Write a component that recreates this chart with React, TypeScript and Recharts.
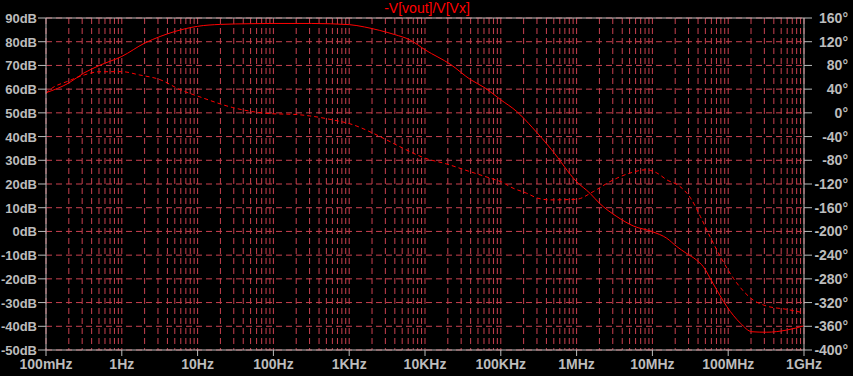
import React from "react";
import { LineChart, Line, XAxis, YAxis, CartesianGrid, ReferenceLine } from "recharts";

// Magnitude (dB) vs frequency (Hz)
const magFreq = [0.1, 0.2, 0.316, 0.5, 1, 2, 3.2, 5, 10, 20, 50, 100, 316, 1000, 1600, 2500, 4000, 6300, 10000, 22000, 40000, 62000, 100000, 162000, 263000, 470000, 1e6, 1.5e6, 2e6, 3.4e6, 5.6e6, 1e7, 1.55e7, 2.1e7, 2.8e7, 3.8e7, 4.7e7, 6.3e7, 9.6e7, 1.45e8, 2.05e8, 3.2e8, 5.9e8, 1e9];
const magDb = [58.5, 62.6, 66.8, 69.9, 73.8, 79.4, 82.2, 84.3, 86.5, 87.3, 87.6, 87.7, 87.7, 87.2, 86.2, 84.8, 83, 80.8, 76.6, 70.3, 64, 60.5, 55.5, 50.6, 43.7, 34.4, 21, 16.1, 11.9, 6.25, 2.3, -0.1, -2.9, -6.4, -9.2, -12, -14.9, -21.9, -31.7, -38.7, -42.3, -42.5, -41.6, -39.8];

// Phase (degrees) vs frequency (Hz)
const phFreq = [0.1, 0.11, 0.2, 0.32, 0.5, 1, 1.7, 3.2, 5.9, 10.7, 29, 79, 224, 600, 1120, 2040, 2800, 5100, 10000, 19000, 39000, 72000, 100000, 145000, 219000, 309000, 447000, 1e6, 1.66e6, 2.75e6, 5e6, 8.3e6, 1.12e7, 1.55e7, 2.3e7, 3.2e7, 4.3e7, 5.75e7, 7.9e7, 1.17e8, 2.14e8, 3.2e8, 5.9e8, 1e9];
const phDeg = [33, 38, 54, 64, 69.3, 69.5, 64, 56, 39, 27, 9, -0.7, -3.3, -11.7, -20, -34, -42.6, -59.5, -76.4, -86, -99, -110, -116, -127, -135.5, -144, -146.8, -145.7, -132.8, -116, -101.8, -96, -100.7, -113, -124, -144, -175, -208.8, -242.6, -279, -315.7, -325.8, -331.4, -337.5];

const decadeValues = [0.1, 1, 10, 100, 1e3, 1e4, 1e5, 1e6, 1e7, 1e8, 1e9];
const decadeLabels = ["100mHz", "1Hz", "10Hz", "100Hz", "1KHz", "10KHz", "100KHz", "1MHz", "10MHz", "100MHz", "1GHz"];
const leftTicks = [-50, -40, -30, -20, -10, 0, 10, 20, 30, 40, 50, 60, 70, 80, 90];
const rightTicks = [-400, -360, -320, -280, -240, -200, -160, -120, -80, -40, 0, 40, 80, 120, 160];
const title = "-V[vout]/V[Vx]";

const magData = magFreq.map((f, i) => ({ f, v: magDb[i] }));
const phData = phFreq.map((f, i) => ({ f, v: phDeg[i] }));

const xTicks: number[] = [];
for (let d = 0; d < decadeValues.length - 1; d++) {
  for (let m = 1; m <= 9; m++) xTicks.push(m * decadeValues[d]);
}
xTicks.push(decadeValues[decadeValues.length - 1]);

const AXIS = "#bcbcbc";
const GRID = "#c8404f";
const FONT = "'Liberation Sans', Arial, sans-serif";

function labelFor(v: number) {
  for (let i = 0; i < decadeValues.length; i++) {
    if (Math.abs(v / decadeValues[i] - 1) < 1e-6) return decadeLabels[i];
  }
  return null;
}

const XTick = (props: any) => {
  const { x, y, payload } = props;
  const lab = labelFor(payload.value);
  if (!lab) return null;
  return (
    <g>
      <line x1={x} x2={x} y1={y} y2={y + 6} stroke={AXIS} />
      <text x={x} y={y + 19} textAnchor="middle" fill={AXIS} fontFamily={FONT} fontWeight="bold" fontSize={14}>
        {lab}
      </text>
    </g>
  );
};

const LeftTick = (props: any) => {
  const { x, y, payload } = props;
  return (
    <g>
      <line x1={x - 8} x2={x} y1={y} y2={y} stroke={AXIS} />
      <text x={x - 9} y={y + 5} textAnchor="end" fill={AXIS} fontFamily={FONT} fontWeight="bold" fontSize={13}>
        {`${payload.value}dB`}
      </text>
    </g>
  );
};

const RightTick = (props: any) => {
  const { x, y, payload } = props;
  return (
    <g>
      <line x1={x} x2={x + 8} y1={y} y2={y} stroke={AXIS} />
      <text x={848} y={y + 5} textAnchor="end" fill={AXIS} fontFamily={FONT} fontWeight="bold" fontSize={14}>
        {`${payload.value}°`}
      </text>
    </g>
  );
};

export default function App() {
  return (
    <div style={{ position: "absolute", left: 0, top: 0, width: 853, height: 376, background: "#000" }}>
      <LineChart width={853} height={376} margin={{ top: 18, right: 0, bottom: 0, left: 0 }}>
        <CartesianGrid yAxisId="left" stroke={GRID} strokeDasharray="6 4" />
        <XAxis
          dataKey="f"
          type="number"
          scale="log"
          domain={[0.1, 1e9]}
          ticks={xTicks}
          interval={0}
          allowDataOverflow
          height={26}
          tickSize={0}
          tickMargin={0}
          tickLine={false}
          axisLine={{ stroke: AXIS }}
          tick={<XTick />}
        />
        <YAxis
          yAxisId="left"
          type="number"
          domain={[-50, 90]}
          ticks={leftTicks}
          interval={0}
          width={46}
          tickSize={0}
          tickMargin={0}
          tickLine={false}
          axisLine={{ stroke: AXIS }}
          tick={<LeftTick />}
        />
        <YAxis
          yAxisId="right"
          orientation="right"
          type="number"
          domain={[-400, 160]}
          ticks={rightTicks}
          interval={0}
          width={49}
          tickSize={0}
          tickMargin={0}
          tickLine={false}
          axisLine={{ stroke: AXIS }}
          tick={<RightTick />}
        />
        <ReferenceLine yAxisId="left" y={90} stroke={AXIS} />
        <Line
          yAxisId="left"
          data={magData}
          dataKey="v"
          stroke="#ff0000"
          strokeWidth={1}
          dot={false}
          isAnimationActive={false}
          type="monotone"
        />
        <Line
          yAxisId="right"
          data={phData}
          dataKey="v"
          stroke="#ff0000"
          strokeWidth={1}
          strokeDasharray="4 3"
          dot={false}
          isAnimationActive={false}
          type="monotone"
        />
        <text x={427} y={13} textAnchor="middle" fill="#ff0000" fontFamily={FONT} fontSize={14}>
          {title}
        </text>
      </LineChart>
    </div>
  );
}
